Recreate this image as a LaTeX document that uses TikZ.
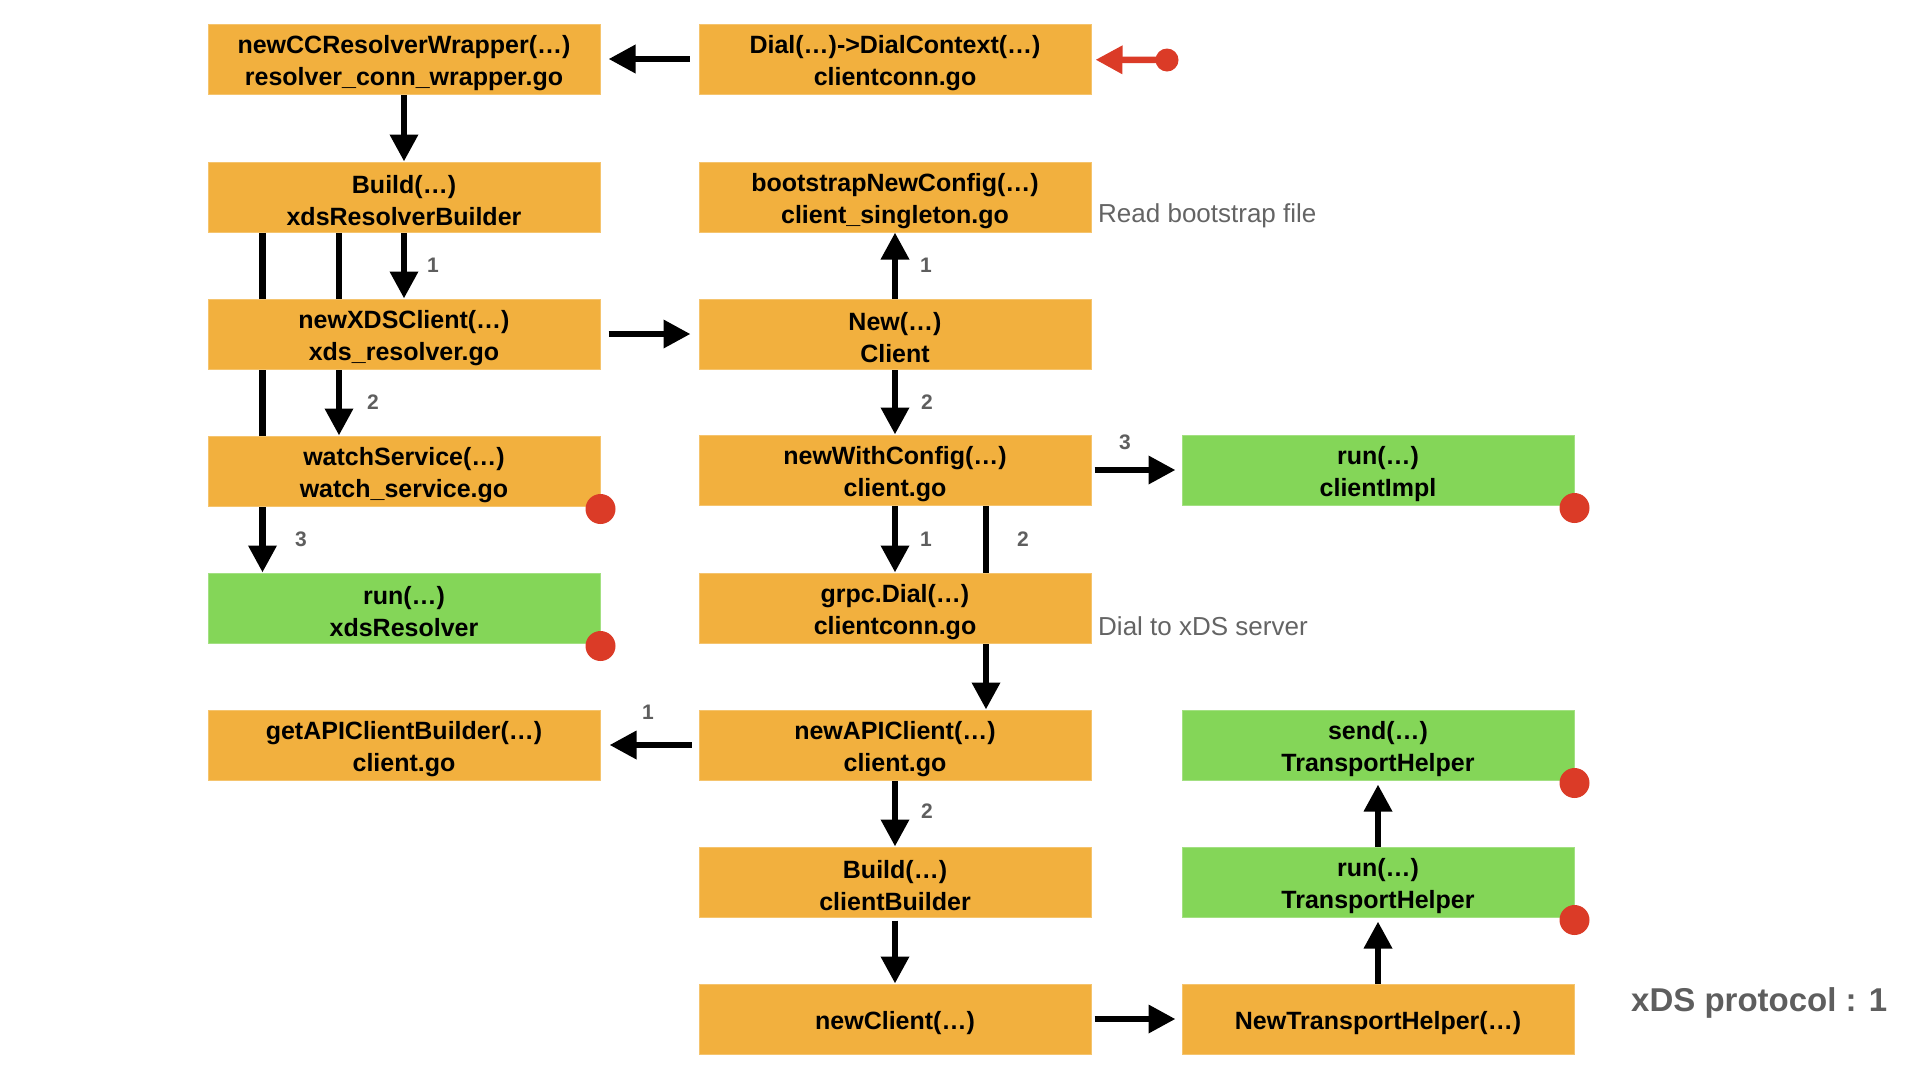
\documentclass[tikz,border=0pt]{standalone}
\usepackage{fontspec}
\setmainfont{Liberation Sans}
\usetikzlibrary{arrows.meta,backgrounds}
\definecolor{boxorange}{HTML}{F2B03E}
\definecolor{boxgreen}{HTML}{84D658}
\definecolor{dotred}{HTML}{DB3B27}
\definecolor{notegray}{HTML}{646464}
\definecolor{numgray}{HTML}{5E5E5E}
% taller first row so the text block sits a little low in its box
\newcommand\toprow{\rule{0pt}{26pt}}
\begin{document}
\begin{tikzpicture}[x=1pt,y=-1pt,
  fnbox/.style={minimum width=392pt, minimum height=70pt, inner sep=0pt,
    align=center, text=black, line width=1pt,
    font=\fontsize{25}{32}\selectfont\bfseries},
  callbox/.style={fnbox, fill=boxorange, draw=boxorange!75!white},
  loopbox/.style={fnbox, fill=boxgreen, draw=boxgreen!75!white},
  flow/.style={line width=6.5pt, -{Triangle[length=27pt,width=27pt]}},
  entryflow/.style={flow, dotred},
  dotmark/.style={circle, fill=dotred, inner sep=0pt, minimum size=30pt, yshift=-2.5pt},
  entrydot/.style={circle, fill=dotred, inner sep=0pt, minimum size=23pt},
  num/.style={inner sep=0pt, text=numgray, font=\fontsize{21}{21}\selectfont\bfseries},
  note/.style={inner sep=0pt, anchor=base west, text=notegray, font=\fontsize{26}{26}\selectfont},
  title/.style={inner sep=0pt, anchor=base west, text=numgray, font=\fontsize{33}{33}\selectfont\bfseries}
]
\useasboundingbox (0,0) rectangle (1920,1080);

% call chain boxes
\node[callbox] (wrap)   at (404,59)   {\toprow newCCResolverWrapper(…)\\resolver\_conn\_wrapper.go};
\node[callbox] (dial)   at (895,59)   {\toprow Dial(…)->DialContext(…)\\clientconn.go};
\node[callbox] (rbuild) at (404,197)  {\toprow Build(…)\\xdsResolverBuilder};
\node[callbox] (boot)   at (895,197)  {\toprow bootstrapNewConfig(…)\\client\_singleton.go};
\node[callbox] (newxds) at (404,334)  {\toprow newXDSClient(…)\\xds\_resolver.go};
\node[callbox] (newc)   at (895,334)  {\toprow New(…)\\Client};
\node[callbox] (watch)  at (404,471)  {\toprow watchService(…)\\watch\_service.go};
\node[callbox] (nwc)    at (895,470)  {\toprow newWithConfig(…)\\client.go};
\node[loopbox] (implrun) at (1378,470) {\toprow run(…)\\clientImpl};
\node[loopbox] (xdsrun) at (404,608)  {\toprow run(…)\\xdsResolver};
\node[callbox] (gdial)  at (895,608)  {\toprow grpc.Dial(…)\\clientconn.go};
\node[callbox] (getapi) at (404,745)  {\toprow getAPIClientBuilder(…)\\client.go};
\node[callbox] (newapi) at (895,745)  {\toprow newAPIClient(…)\\client.go};
\node[loopbox] (send)   at (1378,745) {\toprow send(…)\\TransportHelper};
\node[callbox] (cbuild) at (895,882)  {\toprow Build(…)\\clientBuilder};
\node[loopbox] (threrun) at (1378,882) {\toprow run(…)\\TransportHelper};
\node[callbox] (newcl)  at (895,1019) {\toprow newClient(…)};
\node[callbox] (nth)    at (1378,1019) {\toprow NewTransportHelper(…)};

% goroutine markers
\node[dotmark] (watchdot) at (watch.south east) {};
\node[dotmark] (xdsrundot) at (xdsrun.south east) {};
\node[dotmark] (impldot) at (implrun.south east) {};
\node[dotmark] (senddot) at (send.south east) {};
\node[dotmark] (thdot) at (threrun.south east) {};

% entry point
\node[entrydot] (entry) at (1167,60) {};

% connectors, kept under the boxes
\begin{pgfonlayer}{background}
\draw[flow, shorten <=9pt, shorten >=8pt] (dial) -- (wrap);
\draw[entryflow, shorten >=4pt] (entry.center) -- (dial);
\draw[flow] (wrap) -- (rbuild);
\draw[flow] (rbuild) -- (newxds);
\draw[flow] ([xshift=-65pt]rbuild.south) -- ([xshift=-65pt]watch.north);
\draw[flow] ([xshift=-141.5pt]rbuild.south) -- ([xshift=-141.5pt]xdsrun.north);
\draw[flow, shorten <=8pt, shorten >=8pt] (newxds) -- (newc);
\draw[flow] (newc) -- (boot);
\draw[flow] (newc) -- (nwc);
\draw[flow, shorten <=3pt, shorten >=6pt] (nwc) -- (implrun);
\draw[flow] (nwc) -- (gdial);
\draw[flow] ([xshift=91pt]nwc.south) -- ([xshift=91pt]newapi.north);
\draw[flow, shorten <=7pt, shorten >=9pt] (newapi) -- (getapi);
\draw[flow] (newapi) -- (cbuild);
\draw[flow, shorten <=3pt] (cbuild) -- (newcl);
\draw[flow, shorten <=3pt, shorten >=6pt] (newcl) -- (nth);
\draw[flow, shorten >=4pt] (nth) -- (threrun);
\draw[flow, shorten >=4pt] (threrun) -- (send);
\end{pgfonlayer}

% call order numbers
\node[num] (n1) at (433,265) {1};
\node[num] (n2) at (373,402) {2};
\node[num] (n3) at (301,539) {3};
\node[num] (n4) at (926,265) {1};
\node[num] (n5) at (927,402) {2};
\node[num] (n6) at (1125,442) {3};
\node[num] (n7) at (926,539) {1};
\node[num] (n8) at (1023,539) {2};
\node[num] (n9) at (648,712) {1};
\node[num] (n10) at (927,811) {2};

% notes
\node[note] (readnote) at (1098,222) {Read bootstrap file};
\node[note] (dialnote) at (1098,635) {Dial to xDS server};
\node[title] (proto) at (1631,1011) {xDS protocol : 1};
\end{tikzpicture}
\end{document}
